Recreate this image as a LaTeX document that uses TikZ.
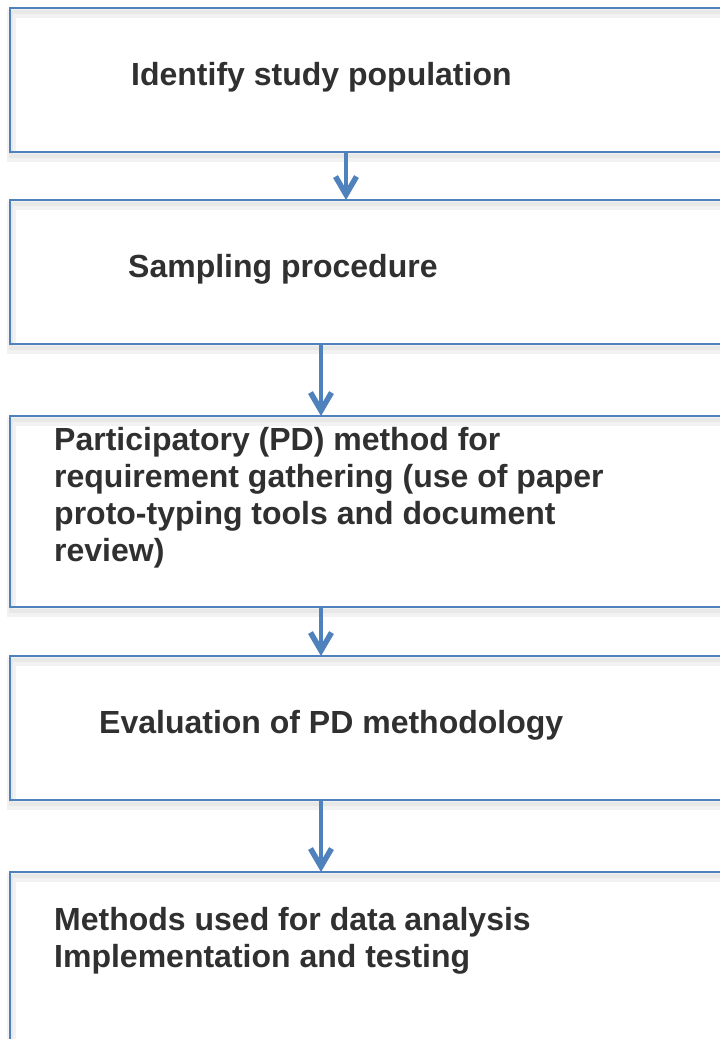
\documentclass[tikz,border=0pt]{standalone}
\usepackage{fontspec}
\setmainfont{Liberation Sans}
\usetikzlibrary{arrows.meta}
\definecolor{boxblue}{HTML}{4F81BD}
\definecolor{inkgray}{HTML}{303030}
\tikzset{
  stepbox/.style={rectangle, draw=boxblue, line width=2pt, outer sep=0pt, inner sep=0pt,
    anchor=north west, minimum width=740pt,
    preaction={draw=black!5, line width=9pt, transform canvas={shift={(1pt,-5pt)}}},
    preaction={draw=black!9, line width=4pt, transform canvas={shift={(1pt,-4pt)}}}},
  steptext/.style={anchor=base west, inner sep=0pt, text=inkgray, font=\bfseries\fontsize{32}{36.8}\selectfont,
    align=left},
  flow/.style={draw=boxblue, line width=4.5pt,
    -{Straight Barb[length=18pt,width=21pt,line width=5.5pt]}}
}
\begin{document}
\begin{tikzpicture}[x=1pt,y=-1pt]
\useasboundingbox (0,0) rectangle (720,1039);
\clip (0,0) rectangle (720,1039);
\fill[white] (0,0) rectangle (720,1039);

% the five process boxes (they run past the right and bottom edges)
\node[stepbox, minimum height=144pt] (b1) at (10,8) {};
\node[stepbox, minimum height=144pt] (b2) at (10,200) {};
\node[stepbox, minimum height=191pt] (b3) at (10,416) {};
\node[stepbox, minimum height=144pt] (b4) at (10,656) {};
\node[stepbox, minimum height=200pt] (b5) at (10,872) {};

% labels
\node[steptext] (t1) at (131,85) {Identify study population};
\node[steptext] (t2) at (128,277) {Sampling procedure};
\node[steptext, anchor=north west] (t3) at (54,427.5) {Participatory (PD) method for\\requirement gathering (use of paper\\proto-typing tools and document\\review)};
\node[steptext] (t4) at (99,733) {Evaluation of PD methodology};
\node[steptext, anchor=north west] (t5) at (54,907.5) {Methods used for data analysis\\Implementation and testing};

% connectors
\draw[flow] ([xshift=336pt]b1.south west) -- ([xshift=336pt]b2.north west);
\draw[flow] ([xshift=311pt]b2.south west) -- ([xshift=311pt]b3.north west);
\draw[flow] ([xshift=311pt]b3.south west) -- ([xshift=311pt]b4.north west);
\draw[flow] ([xshift=311pt]b4.south west) -- ([xshift=311pt]b5.north west);
\end{tikzpicture}
\end{document}
